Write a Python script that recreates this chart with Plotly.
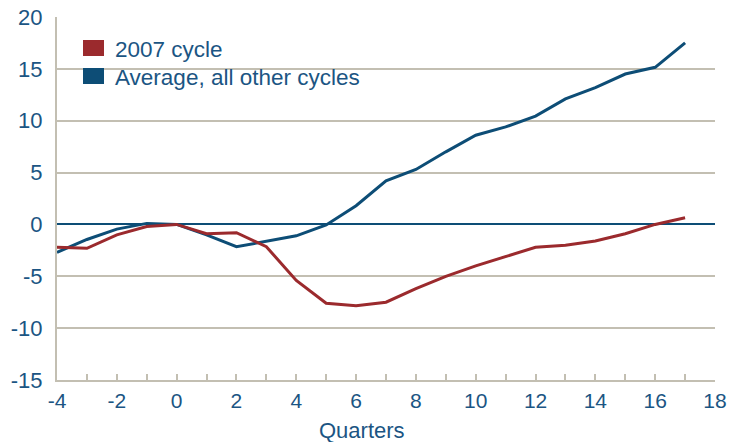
import plotly.graph_objects as go

quarters = list(range(-4, 18))
cycle_2007 = [-2.2, -2.3, -1.0, -0.2, 0.0, -0.9, -0.8, -2.15, -5.4, -7.6, -7.85, -7.5,
              -6.2, -5.0, -4.0, -3.1, -2.2, -2.0, -1.6, -0.9, 0.0, 0.65]
avg_other = [-2.7, -1.45, -0.45, 0.1, 0.0, -1.0, -2.15, -1.65, -1.1, -0.05, 1.8, 4.2,
             5.3, 7.0, 8.6, 9.4, 10.45, 12.1, 13.2, 14.5, 15.15, 17.5]
series_names = ["2007 cycle", "Average, all other cycles"]
x_ticks = list(range(-4, 19, 2))
y_ticks = list(range(-15, 21, 5))

RED = "#9b2a2d"
BLUE = "#0d4d76"
TEXT = "#1b5583"
GRID = "#c3bfb2"
FONT = "Liberation Sans, Arial, sans-serif"
FS = 22

fig = go.Figure()
fig.add_trace(go.Scatter(x=quarters, y=avg_other, mode="lines", name=series_names[1],
                         line=dict(color=BLUE, width=3), showlegend=False))
fig.add_trace(go.Scatter(x=quarters, y=cycle_2007, mode="lines", name=series_names[0],
                         line=dict(color=RED, width=3), showlegend=False))

# legend drawn as boxes + text
L, R, T, B = 57, 15, 17, 62
W, H = 730 - L - R, 442 - T - B
def px(x):
    return (x - L) / W
def py(y):
    return 1 - (y - T) / H

for i, (name, col) in enumerate(zip(series_names, [RED, BLUE])):
    y0 = 40 + i * 28
    fig.add_shape(type="rect", xref="paper", yref="paper",
                  x0=px(83), x1=px(104), y0=py(y0), y1=py(y0 + 16),
                  fillcolor=col, line=dict(width=0))
    fig.add_annotation(xref="paper", yref="paper", x=px(113), y=py(y0 + 9),
                       text=name, showarrow=False, xanchor="left", yanchor="middle",
                       font=dict(family=FONT, size=22.5, color=TEXT))

fig.add_annotation(xref="paper", yref="paper", x=(362 - L) / W, y=py(430),
                   text="Quarters", showarrow=False, xanchor="center", yanchor="middle",
                   font=dict(family=FONT, size=FS, color=TEXT))

fig.update_layout(
    width=730, height=442,
    margin=dict(l=L, r=R, t=T, b=B, autoexpand=False),
    paper_bgcolor="white", plot_bgcolor="white",
    font=dict(family=FONT, size=FS, color=TEXT),
    showlegend=False,
    xaxis=dict(range=[-4, 18], tickvals=x_ticks, ticktext=[str(v) for v in x_ticks],
               showgrid=False, zeroline=False, showline=True, linecolor=GRID, linewidth=2,
               ticks="inside", ticklen=6, tickcolor=GRID, tickwidth=2,
               minor=dict(dtick=1, tick0=0, ticks="inside", ticklen=6, tickcolor=GRID, tickwidth=2),
               tickfont=dict(size=21),
               ticklabelstandoff=1, automargin=False),
    yaxis=dict(range=[-15, 20], tickvals=y_ticks, ticktext=[str(v) for v in y_ticks],
               showgrid=True, gridcolor=GRID, gridwidth=2,
               zeroline=True, zerolinecolor=BLUE, zerolinewidth=2,
               showline=True, linecolor=GRID, linewidth=2, ticks="",
               ticklabelstandoff=8, automargin=False),
)

fig.write_html("out.html", config={"displayModeBar": False},
               post_script="document.body.style.margin='0';document.body.style.padding='0';")
